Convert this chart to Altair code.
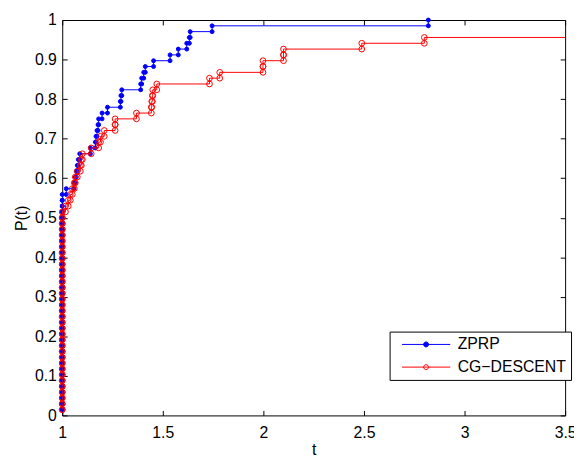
import altair as alt
import pandas as pd

# ---------------- data ----------------
SERIES = ["ZPRP", "CG−DESCENT"]
COLORS = ["#0000ff", "#ff0000"]
N_PROBLEMS = 68

# performance ratios and number of problems having that ratio
zprp_t = [1.0, 1.02, 1.059, 1.065, 1.07, 1.075, 1.08, 1.087, 1.14, 1.165,
          1.168, 1.173, 1.178, 1.181, 1.198, 1.225, 1.289, 1.292, 1.296, 1.39,
          1.395, 1.405, 1.413, 1.454, 1.536, 1.577, 1.619, 1.632, 1.636, 1.745,
          2.82]
zprp_n = [38, 1, 1, 1, 1, 1, 1, 1, 1, 1,
          1, 1, 1, 1, 1, 1, 1, 1, 1, 1,
          1, 1, 1, 1, 1, 1, 1, 1, 1, 1,
          1]

# the last entry (7.0) holds the unsolved problems, placed beyond the axis
cg_t = [1.0, 1.016, 1.03, 1.04, 1.05, 1.06, 1.065, 1.075, 1.09, 1.095,
        1.10, 1.144, 1.181, 1.19, 1.209, 1.263, 1.369, 1.443, 1.445, 1.448,
        1.45, 1.47, 1.732, 1.783, 1.998, 2.10, 2.489, 2.80, 7.0]
cg_n = [35, 1, 1, 1, 1, 1, 1, 1, 1, 1,
        1, 1, 1, 1, 1, 2, 1, 1, 1, 1,
        1, 1, 1, 1, 2, 2, 1, 1, 3]

x_ticks = [1, 1.5, 2, 2.5, 3, 3.5]
y_ticks = [0, 0.1, 0.2, 0.3, 0.4, 0.5, 0.6, 0.7, 0.8, 0.9, 1]
T_MAX = 3.5


def stairs(ts, ns, name):
    ratios = []
    for t, c in zip(ts, ns):
        ratios.extend([t] * c)
    ratios.sort()
    ys = [(i + 1) / N_PROBLEMS for i in range(len(ratios))]
    pts = [(ratios[0], ys[0])]
    for i in range(1, len(ratios)):
        pts.append((ratios[i], ys[i - 1]))
        pts.append((ratios[i], ys[i]))
    return [{"t": t, "P": p, "series": name, "k": j} for j, (t, p) in enumerate(pts)]


df = pd.DataFrame(stairs(zprp_t, zprp_n, SERIES[0]) + stairs(cg_t, cg_n, SERIES[1]))

FONT = "Liberation Sans"
FS = 16

xscale = alt.Scale(domain=[1, T_MAX], nice=False, zero=False)
yscale = alt.Scale(domain=[0, 1], nice=False, zero=False)

legend = alt.Legend(
    title=None, orient="none", legendX=332, legendY=316,
    symbolType="M-4.9,0H4.9M0.5,0A0.5,0.5,0,1,1,-0.5,0A0.5,0.5,0,1,1,0.5,0",
    symbolSize=100, symbolStrokeWidth=1, symbolOffset=24,
    labelFont=FONT, labelFontSize=FS, labelColor="black", labelOffset=24,
    padding=5, rowPadding=7, strokeColor="black", fillColor="white",
    cornerRadius=0,
)

stroke_enc = alt.Stroke("series:N", scale=alt.Scale(domain=SERIES, range=COLORS), legend=legend)
fill_enc = alt.Fill("series:N", scale=alt.Scale(domain=SERIES, range=[COLORS[0], "transparent"]), legend=legend)


def label_axis(orient, values, title, pad, tpad):
    return alt.Axis(orient=orient, values=values, format="~g", ticks=False, tickSize=0,
                    domain=False, grid=False, labelFont=FONT, labelFontSize=FS,
                    labelColor="black", labelPadding=pad, labelFlush=False,
                    labelOverlap=False, title=title, titleFont=FONT,
                    titleFontSize=FS, titleFontWeight="normal", titleColor="black",
                    titlePadding=tpad)


def tick_axis(orient, values):
    return alt.Axis(orient=orient, values=values, offset=-5, tickSize=5, ticks=True,
                    tickColor="black", tickWidth=1, labels=False, domain=False,
                    grid=False, title=None)


base = alt.Chart(df)
in_range = alt.datum.t <= T_MAX

blue_pts = base.transform_filter(alt.datum.series == SERIES[0]).transform_filter(in_range).mark_point(
    filled=True, size=16, opacity=1, strokeWidth=1
).encode(
    x=alt.X("t:Q", scale=xscale, axis=tick_axis("bottom", x_ticks)),
    y=alt.Y("P:Q", scale=yscale, axis=tick_axis("left", y_ticks)),
    stroke=stroke_enc, fill=fill_enc,
)

blue_line = base.transform_filter(alt.datum.series == SERIES[0]).mark_line(
    strokeWidth=1, clip=True
).encode(
    x=alt.X("t:Q", scale=xscale, axis=label_axis("bottom", x_ticks, "t", 9, 2)),
    y=alt.Y("P:Q", scale=yscale, axis=label_axis("left", y_ticks, "P(t)", 6, 5)),
    order="k:Q", stroke=stroke_enc,
)

red_line = base.transform_filter(alt.datum.series == SERIES[1]).mark_line(
    strokeWidth=1, clip=True
).encode(
    x=alt.X("t:Q", scale=xscale, axis=tick_axis("top", x_ticks)),
    y=alt.Y("P:Q", scale=yscale, axis=tick_axis("right", y_ticks)),
    order="k:Q", stroke=stroke_enc,
)

red_pts = base.transform_filter(alt.datum.series == SERIES[1]).transform_filter(in_range).mark_point(
    filled=True, size=34, opacity=1, strokeWidth=1
).encode(
    x=alt.X("t:Q", scale=xscale, axis=None),
    y=alt.Y("P:Q", scale=yscale, axis=None),
    stroke=stroke_enc, fill=fill_enc,
)

chart = alt.layer(blue_pts, blue_line, red_line, red_pts).resolve_axis(
    x="independent", y="independent"
).properties(
    width=510, height=401,
    autosize=alt.AutoSizeParams(type="none"),
    padding={"left": 55, "top": 9, "right": 9, "bottom": 40},
    background="white",
).configure_view(stroke="black", strokeWidth=1)

chart.save("out.html", embed_options={"renderer": "svg", "actions": False})
